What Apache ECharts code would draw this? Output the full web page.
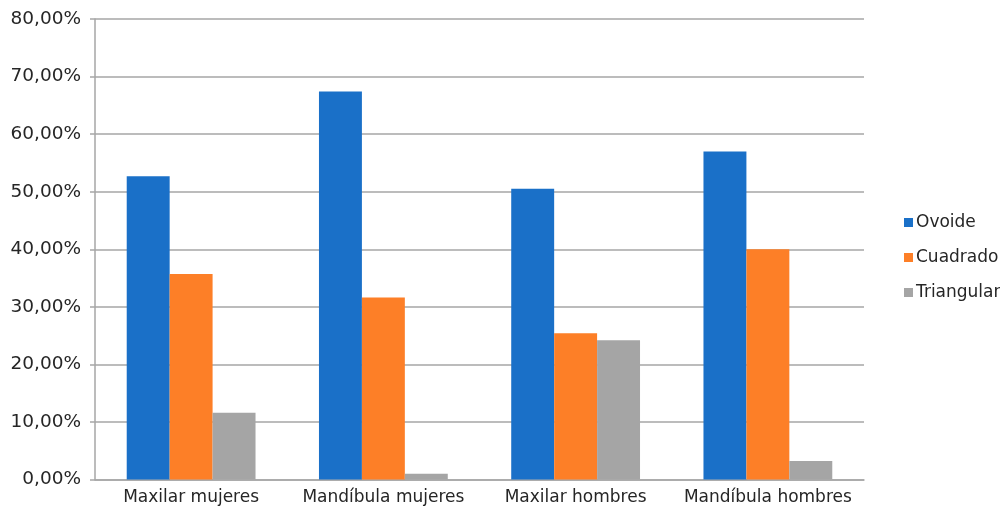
<!DOCTYPE html>
<html>
<head>
<meta charset="utf-8">
<script src="https://cdn.jsdelivr.net/npm/echarts@6/dist/echarts.min.js"></script>
<style>
  html, body { margin: 0; padding: 0; background: #fff; }
  #chart { width: 1000px; height: 508px; }
</style>
</head>
<body>
<div id="chart"></div>
<script>
// Forma de arcada por grupo (porcentaje)
const categories = ['Maxilar mujeres', 'Mandíbula mujeres', 'Maxilar hombres', 'Mandíbula hombres'];
const ovoide = [52.7, 67.4, 50.5, 57.0];
const cuadrado = [35.7, 31.6, 25.4, 40.0];
const triangular = [11.6, 1.0, 24.2, 3.2];

const seriesNames = ['Ovoide', 'Cuadrado', 'Triangular'];
const seriesColors = ['#1a70c8', '#fd7f27', '#a5a5a5'];
const seriesData = [ovoide, cuadrado, triangular];

const fontFamily = '"DejaVu Sans", sans-serif';
const pct = v => v.toFixed(2).replace('.', ',') + '%';

const chart = echarts.init(document.getElementById('chart'), null, { renderer: 'canvas' });
chart.setOption({
  animation: false,
  backgroundColor: '#ffffff',
  textStyle: { fontFamily: fontFamily },
  grid: { left: 95, right: 136, top: 19, bottom: 28.5, containLabel: false },
  legend: {
    orient: 'vertical',
    left: 899,
    top: 209,
    itemWidth: 9,
    itemHeight: 9,
    itemGap: 18,
    icon: 'rect',
    textStyle: { fontSize: 17, color: '#262626', fontFamily: fontFamily, padding: [0, 0, 0, -2] },
    data: seriesNames
  },
  xAxis: {
    type: 'category',
    data: categories,
    axisLine: { lineStyle: { color: '#a6a6a6', width: 1.5 } },
    axisTick: { alignWithLabel: false, length: 5, lineStyle: { color: '#a6a6a6', width: 1.5 } },
    axisLabel: { interval: 0, fontSize: 17, color: '#262626', margin: 10 }
  },
  yAxis: {
    type: 'value',
    min: 0,
    max: 80,
    interval: 10,
    axisLine: { show: true, lineStyle: { color: '#a6a6a6', width: 1.5 } },
    axisTick: { show: true, length: 5, lineStyle: { color: '#a6a6a6', width: 1.5 } },
    splitLine: { lineStyle: { color: '#a6a6a6', width: 1.5 } },
    axisLabel: { fontSize: 18.5, color: '#262626', margin: 14, formatter: pct }
  },
  series: seriesNames.map((name, i) => ({
    name: name,
    type: 'bar',
    data: seriesData[i],
    barGap: '0%',
    barCategoryGap: '33%',
    itemStyle: { color: seriesColors[i] }
  }))
});
</script>
</body>
</html>
